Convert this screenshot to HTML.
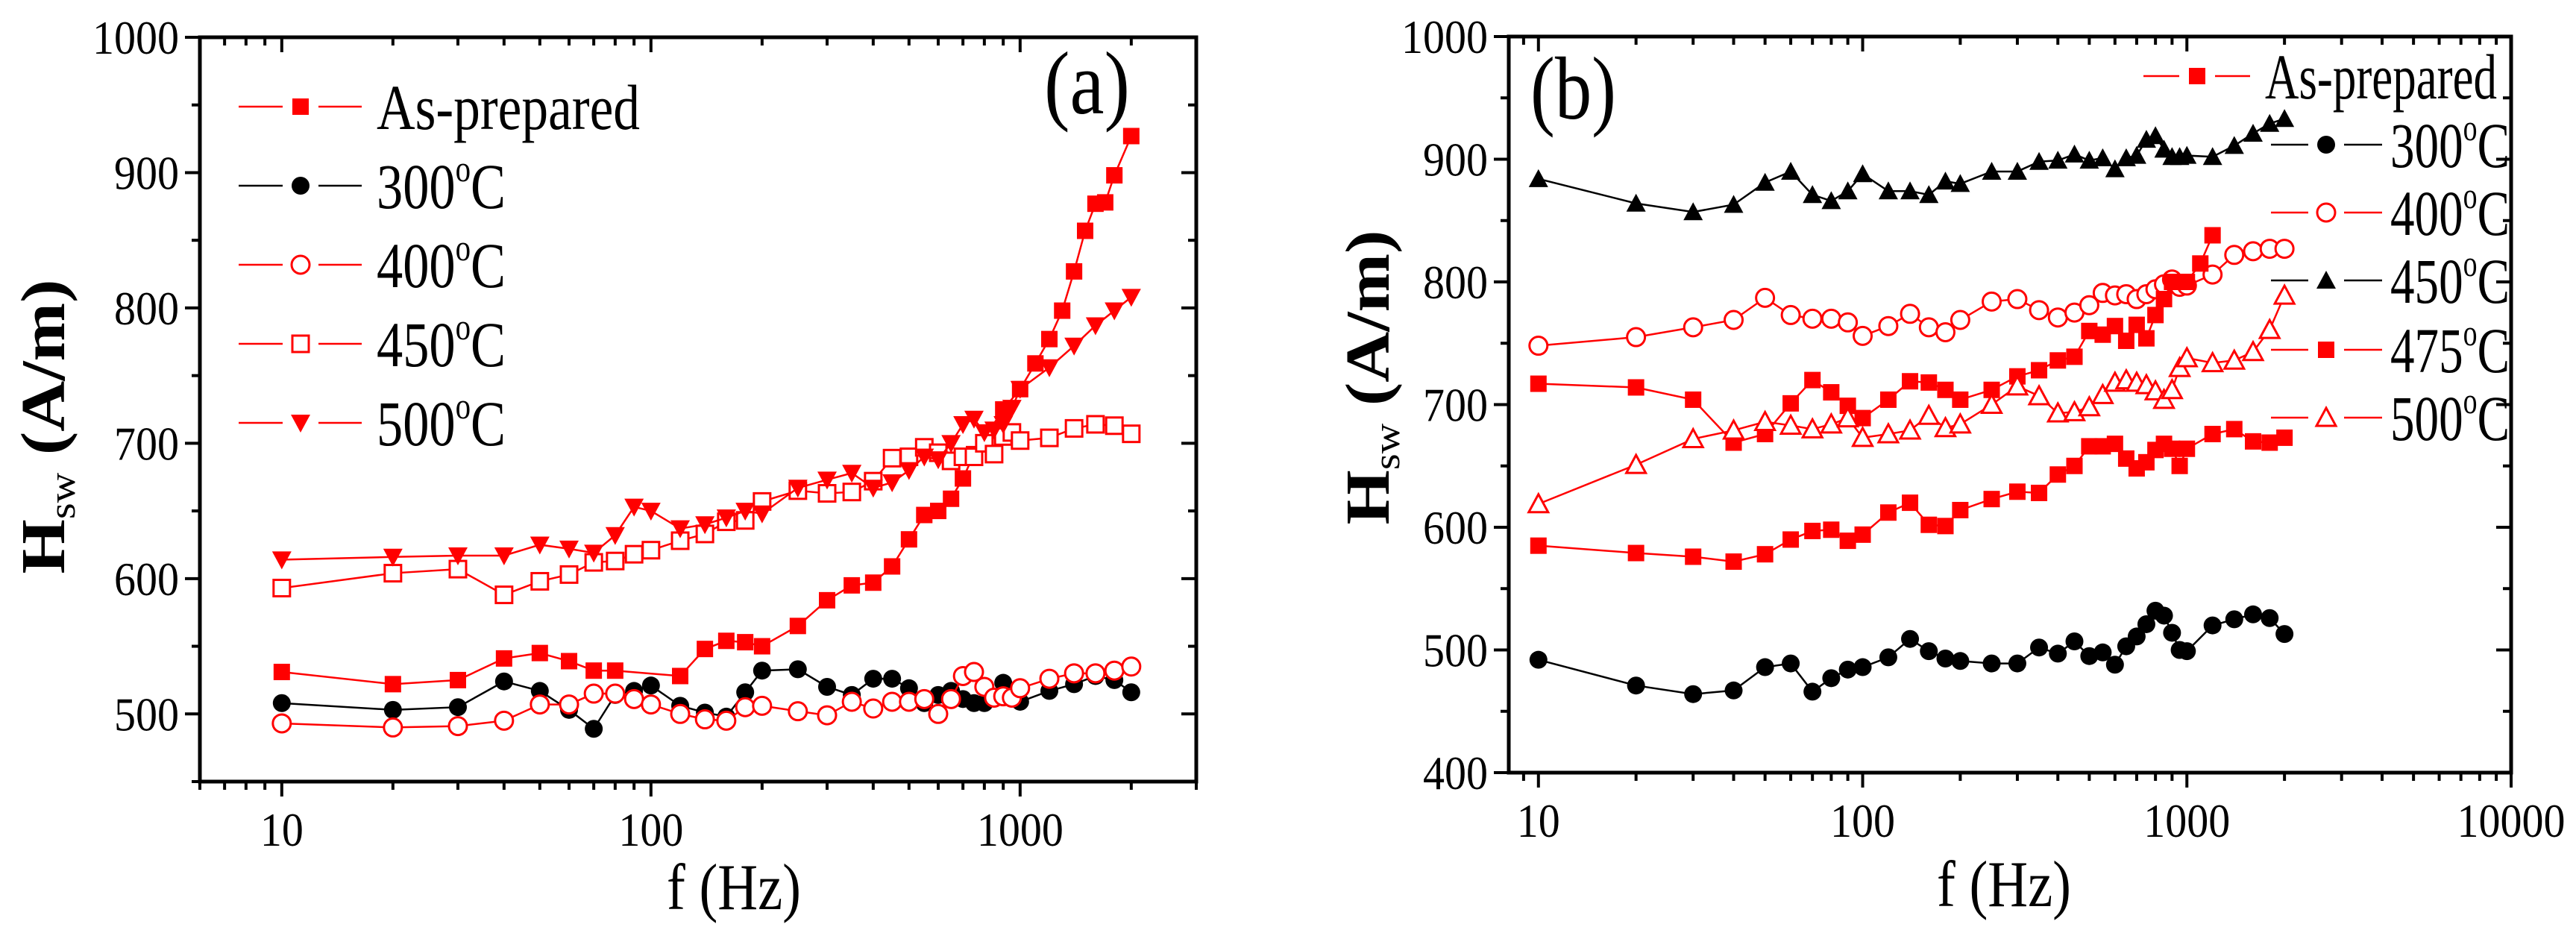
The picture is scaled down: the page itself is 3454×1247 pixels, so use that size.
<!DOCTYPE html>
<html><head><meta charset="utf-8"><style>
html,body{margin:0;padding:0;background:#fff}
svg{display:block}
svg text{font-family:"Liberation Serif","DejaVu Serif","Times New Roman",serif;fill:#000}
</style></head><body>
<svg id="chart" width="3454" height="1247" viewBox="0 0 3454 1247" xmlns="http://www.w3.org/2000/svg" font-family="Liberation Serif, DejaVu Serif, serif">
<g id="panelA"></g>
<g id="panelB"></g>
</svg>
<script>
// ---- Panel (a) data ----
const aAsF=[10,20,30,40,50,60,70,80,120,140,160,180,200,250,300,350,400,450,500,550,600,650,700,750,900,1000,1100,1200,1300,1400,1500,1600,1700,1800,2000];
const aAsY=[531,522,525,541,545,539,532,532,528,548,554,553,550,565,584,595,597,609,629,647,650,659,674,692,725,740,759,777,798,827,857,877,878,898,927];
const a300F=[10,20,30,40,50,60,70,80,90,100,120,140,160,180,200,250,300,350,400,450,500,550,600,650,700,750,800,900,1000,1200,1400,1600,1800,2000];
const a300Y=[508,503,505,524,517,503,489,514,517,521,506,501,498,516,532,533,520,514,526,526,519,508,514,517,511,508,508,523,509,517,522,528,525,516];
const aF=[10,20,30,40,50,60,70,80,90,100,120,140,160,180,200,250,300,350,400,450,500,550,600,650,700,750,800,850,900,950,1000,1200,1400,1600,1800,2000];
const a400Y=[493,490,491,495,507,507,515,515,511,507,500,496,495,505,506,502,499,509,504,509,509,511,500,511,528,531,520,512,513,512,519,526,530,530,532,535];
const a450Y=[593,604,607,588,598,603,612,613,618,621,628,633,642,643,657,665,663,664,672,689,690,697,693,687,690,690,700,692,705,708,702,704,711,714,713,707];
const a500Y=[614,616,617,617,625,622,619,632,653,650,637,640,645,650,648,667,673,678,667,671,680,690,688,700,714,718,708,710,714,726,740,756,772,787,798,808];
const aXTicks=[10,100,1000];
const aXTickLabels=["10","100","1000"];
const aYTicks=[500,600,700,800,900,1000];
const aYTickLabels=["500","600","700","800","900","1000"];

// ---- Panel (b) data ----
const bF=[10,20,30,40,50,60,70,80,90,100,120,140,160,180,200,250,300,350,400,450,500,550,600,650,700,750,800,850,900,950,1000,1200,1400,1600,1800,2000];
const b450Y=[884,864,857,863,881,890,871,866,874,888,874,874,871,882,880,890,890,898,899,904,899,901,892,901,903,916,919,908,902,902,903,902,911,921,929,933];
const b400Y=[748,755,763,769,787,773,770,770,767,756,764,774,763,759,769,784,786,777,771,775,781,791,789,790,786,790,794,798,802,796,797,806,822,825,827,827];
const b475F=[10,20,30,40,50,60,70,80,90,100,120,140,160,180,200,250,300,350,400,450,500,550,600,650,700,750,800,850,900,1000,1100,1200];
const b475Y=[717,714,704,669,676,701,720,710,699,689,704,719,718,712,704,712,723,728,736,739,760,757,764,752,765,754,773,786,800,800,815,838];
const bAsY=[585,579,576,572,578,590,597,598,589,594,612,620,602,601,614,623,629,628,643,650,666,666,668,656,648,653,663,668,664,650,664,676,680,670,669,673];
const b500Y=[619,651,672,679,686,683,680,684,689,673,676,679,691,681,684,700,715,707,693,694,698,708,718,720,718,716,711,704,712,730,738,734,736,743,761,789];
const b300Y=[492,471,464,467,486,489,466,477,484,486,494,509,499,493,491,489,489,502,497,507,495,498,488,503,511,521,532,528,514,500,499,520,525,529,526,513];
const bXTicks=[10,100,1000,10000];
const bXTickLabels=["10","100","1000","10000"];
const bYTicks=[400,500,600,700,800,900,1000];
const bYTickLabels=["400","500","600","700","800","900","1000"];

const NS="http://www.w3.org/2000/svg";
function mk(parent,tag,attrs){const e=document.createElementNS(NS,tag);for(const k in attrs)e.setAttribute(k,attrs[k]);parent.appendChild(e);return e;}

function marker(g,type,cx,cy,color){
  const s=11;let e;
  if(type==='sq'||type==='osq'){e=mk(g,'rect',{x:cx-s,y:cy-s,width:2*s,height:2*s});}
  else if(type==='ci'||type==='oci'){e=mk(g,'circle',{cx:cx,cy:cy,r:s+1});}
  else if(type==='tu'||type==='otu'){e=mk(g,'polygon',{points:`${cx},${cy-s-2} ${cx+s+2},${cy+s} ${cx-s-2},${cy+s}`});}
  else {e=mk(g,'polygon',{points:`${cx-s-2},${cy-s} ${cx+s+2},${cy-s} ${cx},${cy+s+2}`});}
  if(type[0]==='o'){e.setAttribute('fill','#fff');e.setAttribute('stroke',color);e.setAttribute('stroke-width','3');}
  else{e.setAttribute('fill',color);}
  return e;
}

function panel(root,P){
  const lx=v=>P.L+(Math.log10(v)-Math.log10(P.xmin))/(Math.log10(P.xmax)-Math.log10(P.xmin))*(P.R-P.L);
  const ly=v=>P.B-(v-P.ymin)/(P.ymax-P.ymin)*(P.B-P.T);
  const fr=mk(root,'rect',{x:P.L,y:P.T,width:P.R-P.L,height:P.B-P.T,fill:'none',stroke:'#000','stroke-width':5});
  
  const tg=mk(root,'g',{stroke:'#000','stroke-width':4});
  
  for(let d=Math.floor(Math.log10(P.xmin));d<=Math.log10(P.xmax);d++){
    for(let m=1;m<10;m++){const v=m*Math.pow(10,d);if(v<P.xmin||v>P.xmax)continue;
      const x=lx(v),len=m===1?20:11;
      mk(tg,'line',{x1:x,y1:P.B,x2:x,y2:P.B+len});
      mk(tg,'line',{x1:x,y1:P.T,x2:x,y2:P.T+len});}
  }
  for(let v=P.ymin;v<=P.ymax;v+=50){const y=ly(v),len=(v%100===0)?20:11;
    mk(tg,'line',{x1:P.L,y1:y,x2:P.L-len,y2:y});
    mk(tg,'line',{x1:P.R,y1:y,x2:P.R-len,y2:y});}
  P.xt.forEach((v,i)=>{const t=mk(root,'text',{x:lx(v),y:P.B+86,'font-size':64,'text-anchor':'middle',textLength:P.xtl[i].length*29,lengthAdjust:'spacingAndGlyphs'});t.textContent=P.xtl[i];
    });
  P.yt.forEach((v,i)=>{const t=mk(root,'text',{x:P.L-28,y:ly(v)+22,'font-size':64,'text-anchor':'end',textLength:P.ytl[i].length*29,lengthAdjust:'spacingAndGlyphs'});t.textContent=P.ytl[i];
    });
  const xt=mk(root,'text',{x:P.xtx,y:P.xty,'font-size':88,'text-anchor':'middle',textLength:180,lengthAdjust:'spacingAndGlyphs'});xt.textContent='f (Hz)';
  
  const yt=mk(root,'text',{x:0,y:0,'font-size':84,'font-weight':'bold','text-anchor':'middle',transform:`translate(${P.ytx},${P.yty}) rotate(-90)`,textLength:395,lengthAdjust:'spacingAndGlyphs'});
  yt.innerHTML='H<tspan font-size="50" font-weight="normal" dy="14">sw</tspan><tspan dy="-14"> (A/m)</tspan>';
  
  const lb=mk(root,'text',{x:P.lbx,y:P.lby,'font-size':120,textLength:115,lengthAdjust:'spacingAndGlyphs'});lb.textContent=P.label;
  
  P.series.forEach(s=>{
    const g=mk(root,'g',{});
    
    const pts=s.f.map((f,i)=>lx(f)+','+ly(s.y[i])).join(' ');
    mk(g,'polyline',{points:pts,fill:'none',stroke:s.c,'stroke-width':2.5});
    s.f.forEach((f,i)=>{const m=marker(g,s.m,lx(f),ly(s.y[i]),s.c);
      });
  });
  const lg=mk(root,'g',{});
  
  P.legend.forEach(e=>{
    const g=mk(lg,'g',{});
    
    mk(g,'line',{x1:e.x1,y1:e.y,x2:e.mx-24,y2:e.y,stroke:e.c,'stroke-width':2.5});
    mk(g,'line',{x1:e.mx+24,y1:e.y,x2:e.x2,y2:e.y,stroke:e.c,'stroke-width':2.5});
    marker(g,e.m,e.mx,e.y,e.c);
    const t=mk(g,'text',{x:e.tx,y:e.y+30,'font-size':86,textLength:e.w,lengthAdjust:'spacingAndGlyphs'});
    if(e.deg){t.innerHTML=e.t+'<tspan font-size="50" dy="-36">o</tspan><tspan dy="36">C</tspan>';}else t.textContent=e.t;
  });
}

const R='#ff0000',K='#000';
panel(document.getElementById('panelA'),{L:268,R:1604,T:50,B:1048,xmin:6,xmax:3000,ymin:450,ymax:1000,
  xt:aXTicks,xtl:aXTickLabels,yt:aYTicks,ytl:aYTickLabels,xtx:984,xty:1219,ytx:86,yty:572,lbx:1400,lby:152,label:'(a)',
  series:[
    {id:'as-prepared',f:aAsF,y:aAsY,c:R,m:'sq'},
    {id:'300c',f:a300F,y:a300Y,c:K,m:'ci'},
    {id:'400c',f:aF,y:a400Y,c:R,m:'oci'},
    {id:'450c',f:aF,y:a450Y,c:R,m:'osq'},
    {id:'500c',f:aF,y:a500Y,c:R,m:'td'}],
  legend:[
    {y:143,x1:320,x2:485,mx:403,tx:505,c:R,m:'sq',t:'As-prepared',w:353},
    {y:249,x1:320,x2:485,mx:403,tx:505,c:K,m:'ci',t:'300',deg:1,w:173},
    {y:355,x1:320,x2:485,mx:403,tx:505,c:R,m:'oci',t:'400',deg:1,w:173},
    {y:461,x1:320,x2:485,mx:403,tx:505,c:R,m:'osq',t:'450',deg:1,w:173},
    {y:567,x1:320,x2:485,mx:403,tx:505,c:R,m:'td',t:'500',deg:1,w:173}]
});
panel(document.getElementById('panelB'),{L:2023,R:3367,T:49,B:1036,xmin:8.1,xmax:10000,ymin:400,ymax:1000,
  xt:bXTicks,xtl:bXTickLabels,yt:bYTicks,ytl:bYTickLabels,xtx:2687,xty:1215,ytx:1862,yty:506,lbx:2052,lby:159,label:'(b)',
  series:[
    {id:'450c',f:bF,y:b450Y,c:K,m:'tu'},
    {id:'400c',f:bF,y:b400Y,c:R,m:'oci'},
    {id:'475c',f:b475F,y:b475Y,c:R,m:'sq'},
    {id:'as-prepared',f:bF,y:bAsY,c:R,m:'sq'},
    {id:'500c',f:bF,y:b500Y,c:R,m:'otu'},
    {id:'300c',f:bF,y:b300Y,c:K,m:'ci'}],
  legend:[
    {y:102,x1:2874,x2:3017,mx:2946,tx:3037,c:R,m:'sq',t:'As-prepared',w:311},
    {y:194,x1:3045,x2:3194,mx:3119,tx:3205,c:K,m:'ci',t:'300',deg:1,w:160},
    {y:285,x1:3045,x2:3194,mx:3119,tx:3205,c:R,m:'oci',t:'400',deg:1,w:160},
    {y:376,x1:3045,x2:3194,mx:3119,tx:3205,c:K,m:'tu',t:'450',deg:1,w:160},
    {y:469,x1:3045,x2:3194,mx:3119,tx:3205,c:R,m:'sq',t:'475',deg:1,w:160},
    {y:560,x1:3045,x2:3194,mx:3119,tx:3205,c:R,m:'otu',t:'500',deg:1,w:160}]
});
</script>
</body></html>
